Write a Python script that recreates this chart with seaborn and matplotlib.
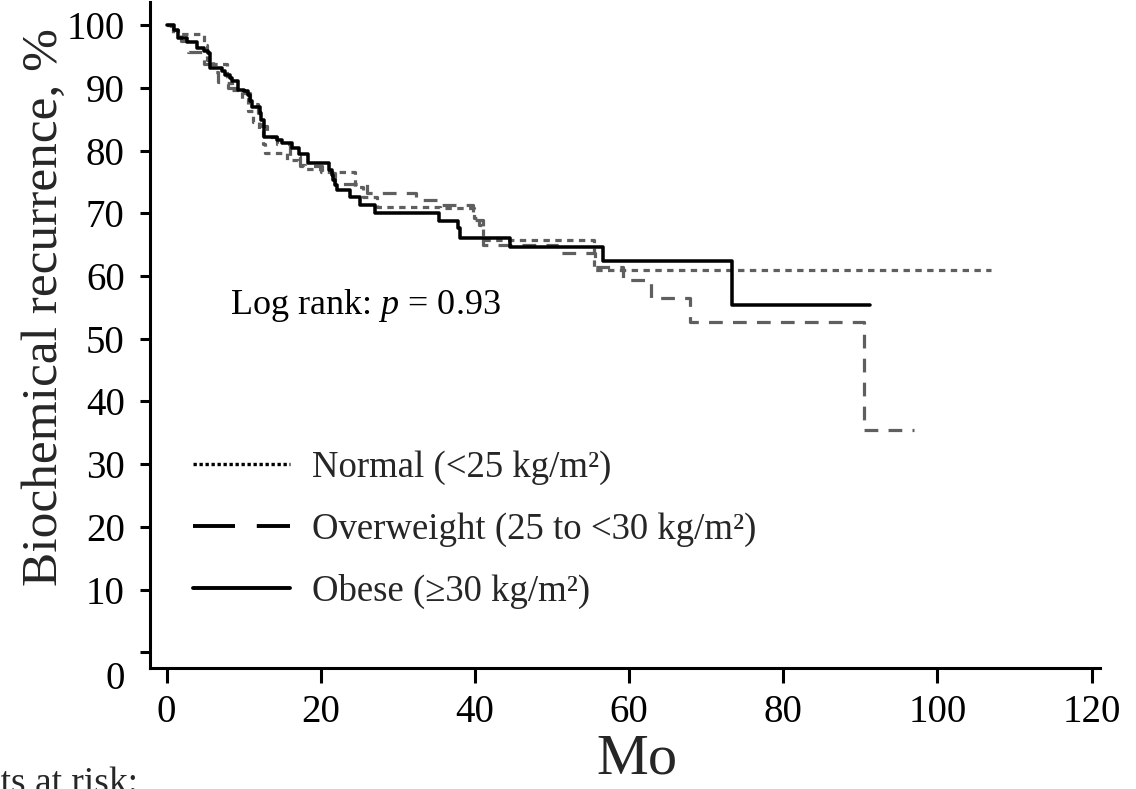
import numpy as np
import pandas as pd
import matplotlib
matplotlib.use("Agg")
import matplotlib.pyplot as plt
import matplotlib.transforms as mtransforms
from matplotlib.lines import Line2D
import seaborn as sns

# ---------------- data ----------------
obese_t = [0, 0.9, 1.5, 2.6, 3.9, 4.8, 5.4, 5.6, 7.2, 7.6, 8.2, 8.5, 9.3, 10.0, 10.6,
           10.8, 11.1, 12.1, 12.3, 12.6, 14.3, 15.0, 16.2, 17.2, 18.4, 21.0, 21.4,
           21.6, 21.9, 22.1, 23.8, 25.1, 27.0, 35.3, 37.8, 38.1, 44.5, 56.6, 73.3, 91.3]
obese_s = [100, 99.3, 98.0, 97.4, 96.4, 95.9, 95.6, 93.2, 92.7, 92.1, 91.6, 91.1, 89.7,
           89.5, 88.9, 87.9, 87.0, 86.0, 84.9, 82.2, 81.7, 81.2, 80.4, 79.5, 78.0, 76.9,
           76.1, 75.3, 74.5, 73.7, 72.6, 71.4, 70.0, 68.7, 67.6, 66.0, 64.7, 62.4, 55.4, 55.4]

normal_t = [0, 0.6, 1.5, 4.9, 5.3, 6.0, 7.8, 8.5, 9.8, 10.6, 11.2, 12.0, 12.5, 12.8,
            15.6, 17.0, 18.0, 20.0, 24.5, 25.5, 27.3, 35.5, 39.9, 40.5, 41.0, 55.4, 107.0]
normal_s = [100, 99.2, 98.6, 96.8, 94.5, 93.8, 90.8, 89.6, 88.2, 86.3, 84.5, 83.3, 81.0,
            79.7, 78.5, 77.7, 77.0, 76.6, 74.2, 72.6, 71.0, 70.8, 69.3, 68.1, 65.8, 60.9, 60.9]

over_t = [0, 0.8, 1.8, 2.8, 4.8, 6.0, 6.7, 8.0, 9.8, 10.8, 11.8, 12.3, 13.0, 14.3,
          16.0, 17.3, 20.2, 21.9, 26.0, 32.4, 35.5, 39.8, 41.0, 50.6, 55.6, 59.2,
          62.9, 67.9, 90.5, 97.0]
over_s = [100, 98.8, 97.5, 95.7, 93.8, 92.6, 91.0, 90.0, 89.2, 87.5, 86.0, 84.0, 82.2,
          81.0, 79.2, 77.6, 76.5, 74.6, 73.2, 72.1, 71.3, 69.0, 65.0, 63.7, 61.4,
          59.4, 56.5, 52.7, 35.4, 35.4]

y_ticks = [0, 10, 20, 30, 40, 50, 60, 70, 80, 90, 100]
x_ticks = [0, 20, 40, 60, 80, 100, 120]
legend_labels = ["Normal (<25 kg/m\u00b2)", "Overweight (25 to <30 kg/m\u00b2)",
                 "Obese (\u226530 kg/m\u00b2)"]

# ---------------- style ----------------
sns.set_theme(style="ticks")
plt.rcParams["font.family"] = ["Liberation Serif", "DejaVu Serif"]
plt.rcParams["mathtext.fontset"] = "custom"
plt.rcParams["mathtext.rm"] = "Liberation Serif"
plt.rcParams["mathtext.it"] = "Liberation Serif:italic"

W, H = 1136, 789
fig = plt.figure(figsize=(W / 100, H / 100), dpi=100)
ax = fig.add_axes([150 / W, (H - 668) / H, (1100 - 150) / W, (668 - 2) / H])

gray = "#5f5f5f"
lw = 2.3

df_n = pd.DataFrame({"t": normal_t, "s": normal_s})
df_o = pd.DataFrame({"t": over_t, "s": over_s})
df_b = pd.DataFrame({"t": obese_t, "s": obese_s})

sns.lineplot(data=df_n, x="t", y="s", ax=ax, drawstyle="steps-post", estimator=None,
             sort=False, color=gray, linewidth=lw, linestyle=(0, (2.0, 1.7)))
sns.lineplot(data=df_o, x="t", y="s", ax=ax, drawstyle="steps-post", estimator=None,
             sort=False, color=gray, linewidth=lw, linestyle=(0, (4.3, 3.2)))
sns.lineplot(data=df_b, x="t", y="s", ax=ax, drawstyle="steps-post", estimator=None,
             sort=False, color="black", linewidth=lw * 1.1)

ax.set_xlim(-2.16, 121.1)
ax.set_ylim(-2.5, 103.7)
ax.set_xticks(x_ticks)
ax.set_xticklabels([str(v) for v in x_ticks])
ax.set_yticks(y_ticks)
ax.set_yticklabels([str(v) for v in y_ticks])

for side in ["top", "right"]:
    ax.spines[side].set_visible(False)
for side in ["left", "bottom"]:
    ax.spines[side].set_linewidth(2.2)
    ax.spines[side].set_color("black")

ax.tick_params(axis="y", direction="out", length=7.2, width=2.2, pad=11,
               labelsize=28, colors="black")
ax.tick_params(axis="x", direction="out", length=10.8, width=2.2, pad=8,
               labelsize=28, colors="black")

# the "0" y-label sits lower in the reference
lab0 = ax.yaxis.get_major_ticks()[0].label1
lab0.set_transform(lab0.get_transform() +
                   mtransforms.ScaledTranslation(0, -0.23, fig.dpi_scale_trans))

ax.set_ylabel("Biochemical recurrence, %", fontsize=37)
ax.yaxis.set_label_coords(-0.111, 0.542)
ax.yaxis.label.set_va("center")
ax.set_xlabel("Mo", fontsize=42)
ax.xaxis.set_label_coords(0.513, -0.138)
ax.xaxis.label.set_va("center")

ax.text(0.084, 0.545, "Log rank: $p$ = 0.93", transform=ax.transAxes,
        fontsize=26, va="center", ha="left", color="black")

handles = [Line2D([], [], color="black", linewidth=2.4, linestyle=(0, (1.0, 0.8))),
           Line2D([], [], color="black", linewidth=2.8, linestyle=(0, (10.8, 5.6))),
           Line2D([], [], color="black", linewidth=2.8, linestyle="-")]
leg = ax.legend(handles, legend_labels, loc="upper left", bbox_to_anchor=(0.045, 0.327),
                frameon=False, fontsize=26.5, handlelength=2.64, handletextpad=0.6,
                labelspacing=0.74, borderpad=0, borderaxespad=0)

fig.text(-0.082, -0.005, "Patients at risk:", fontsize=27, ha="left", va="baseline")

fig.savefig("out.png", dpi=100)
